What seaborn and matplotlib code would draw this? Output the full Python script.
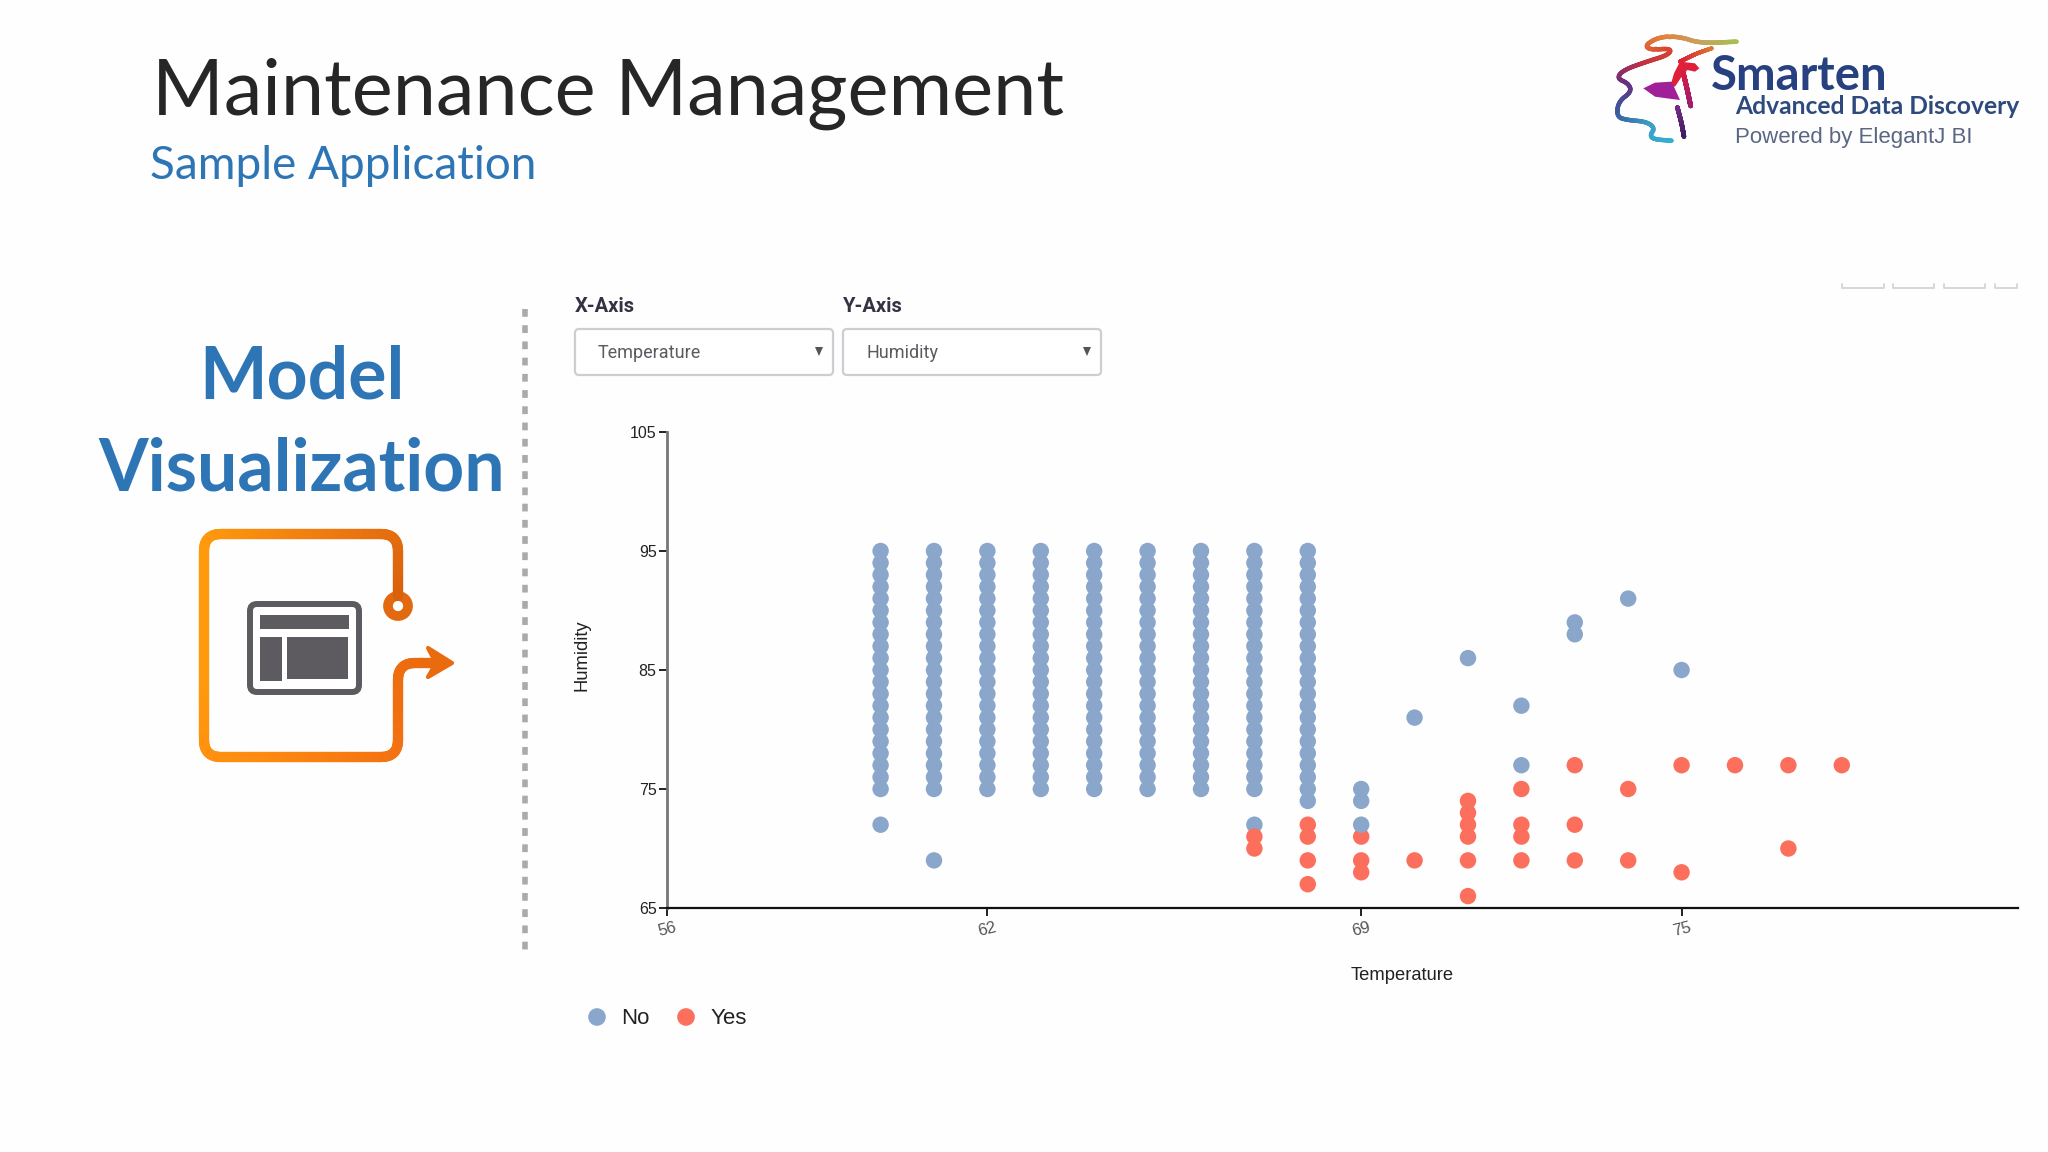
import numpy as np
import pandas as pd
import seaborn as sb
import matplotlib.pyplot as plt
from matplotlib.patches import FancyBboxPatch, Circle, Rectangle, Polygon
from matplotlib.collections import LineCollection
from matplotlib.colors import LinearSegmentedColormap

W, H = 2048, 1152

#humidity readings that repeat in every full column
band_temps = [60, 61, 62, 63, 64, 65, 66, 67, 68]
band_humidity = [75, 76, 77, 78, 79, 80, 81, 82, 83, 84, 85, 86, 87, 88, 89, 90, 91, 92, 93, 94, 95]

#isolated points, in draw order
no_temp = [60, 61, 67, 68, 69, 69, 70, 71, 72, 72, 73, 73, 74, 75]
no_hum = [72, 69, 72, 74, 75, 74, 81, 86, 82, 77, 89, 88, 91, 85]
yes_temp = [67, 67, 68, 68, 68, 68, 69, 69, 69, 70, 71, 71, 71, 71, 71, 71, 72, 72, 72, 72, 73, 73, 73, 74, 74, 75, 75, 76, 77, 77, 78]
yes_hum = [71, 70, 72, 71, 69, 67, 71, 69, 68, 69, 74, 73, 72, 71, 69, 66, 75, 72, 71, 69, 77, 72, 69, 75, 69, 77, 68, 77, 77, 70, 77]
#this one sits on top of the red ones in the picture
top_temp = [69]
top_hum = [72]

x_ticks = [56, 62, 69, 75]
y_ticks = [65, 75, 85, 95, 105]
legend_labels = ["No", "Yes"]
colors = {"No": "#8aa7cb", "Yes": "#fb6f5c"}

rows = []
for t in band_temps:
    for h in band_humidity:
        rows.append((t, h, "No"))
rows += [(t, h, "No") for t, h in zip(no_temp, no_hum)]
rows += [(t, h, "Yes") for t, h in zip(yes_temp, yes_hum)]
rows += [(t, h, "No") for t, h in zip(top_temp, top_hum)]
df = pd.DataFrame(rows, columns=["Temperature", "Humidity", "Play"])

sb.set_theme(style="white")
plt.rcParams["font.family"] = ["Lato", "DejaVu Sans"]

fig = plt.figure(figsize=(W / 100, H / 100), dpi=100, facecolor="#fefefe")

#overlay in pixel coords for the slide furniture
bg = fig.add_axes([0, 0, 1, 1])
bg.set_xlim(0, W)
bg.set_ylim(H, 0)
bg.axis("off")

left, right, top, bottom = 667, 2018, 432, 908
ax = fig.add_axes([left / W, 1 - bottom / H, (right - left) / W, (bottom - top) / H])
ax.patch.set_alpha(0)
sb.scatterplot(data=df, x="Temperature", y="Humidity", hue="Play", palette=colors, s=140,
               linewidth=0, legend=False, clip_on=False, ax=ax)
ax.set_xlim(56, 81.3)
ax.set_ylim(65, 105)
ax.set_xticks(x_ticks)
ax.set_yticks(y_ticks)
ax.set_xticklabels([str(t) for t in x_ticks], rotation=14, fontsize=12, color="#555555", family="Liberation Sans")
ax.set_yticklabels([str(t) for t in y_ticks], fontsize=11.5, color="#222222", family="Liberation Sans")
ax.tick_params(axis="both", length=5.5, width=1.4, color="#222222", bottom=True, left=True)
ax.tick_params(axis="x", pad=3)
ax.tick_params(axis="y", pad=2)
ax.spines["top"].set_visible(False)
ax.spines["right"].set_visible(False)
ax.spines["left"].set_color("#777777")
ax.spines["left"].set_linewidth(2)
ax.spines["bottom"].set_color("#111111")
ax.spines["bottom"].set_linewidth(1.6)
ax.set_xlabel("")
ax.set_ylabel("")

def txt(x, y, s, size, color, weight="normal", family="Lato", ha="left", **kw):
    bg.text(x, y, s, fontsize=size, color=color, fontweight=weight, family=family, ha=ha, va="center", **kw)

txt(152, 94, "Maintenance Management", 55.7, "#262626")
txt(150, 166, "Sample Application", 33, "#2e75b6")
txt(302, 378, "Model", 51.5, "#2e75b6", weight="bold", ha="center")
txt(302, 470, "Visualization", 51.5, "#2e75b6", weight="bold", ha="center")

#dotted divider
bg.plot([525, 525], [309, 950], color="#aaaaaa", lw=4, ls=(0, (1.4, 1.52)), solid_capstyle="butt", dash_capstyle="butt")

#dropdowns
for x0, label, value in [(575, "X-Axis", "Temperature"), (843, "Y-Axis", "Humidity")]:
    txt(x0, 306, label, 14.5, "#333344", weight="bold", family="Roboto")
    bg.add_patch(FancyBboxPatch((x0, 329), 258, 46, boxstyle="round,pad=0,rounding_size=4",
                                fc="white", ec="#cfcdd2", lw=1.6))
    txt(x0 + 23, 353, value, 13, "#5a5a60", family="Roboto")
    bg.add_patch(Polygon([(x0 + 240, 347), (x0 + 248, 347), (x0 + 244, 356)], fc="#555555", ec="none"))

#axis titles and legend
txt(1402, 976, "Temperature", 13.2, "#222222", family="Liberation Sans", ha="center")
txt(582, 655, "Humidity", 13.2, "#222222", family="Liberation Sans", ha="center", rotation=90)
bg.add_patch(Circle((597, 1017), 8.8, fc=colors["No"], ec="none"))
bg.add_patch(Circle((686, 1017), 8.8, fc=colors["Yes"], ec="none"))
txt(621, 1019, legend_labels[0], 16, "#222222", family="Liberation Sans")
txt(711, 1019, legend_labels[1], 16, "#222222", family="Liberation Sans")

#toolbar stubs top right
for a, b in [(1842, 1884), (1893, 1934), (1944, 1985), (1995, 2017)]:
    bg.plot([a, a, b, b], [284, 288, 288, 284], color="#d4d4d8", lw=1.3)

def smooth(pts, n=3):
    #corner cutting, keeps both ends
    pts = np.asarray(pts, float)
    for _ in range(n):
        q = 0.75 * pts[:-1] + 0.25 * pts[1:]
        r = 0.25 * pts[:-1] + 0.75 * pts[1:]
        mid = np.empty((2 * len(q), 2))
        mid[0::2] = q
        mid[1::2] = r
        pts = np.vstack([pts[0], mid, pts[-1]])
    return pts

def grad_line(pts, cols, lw):
    #line coloured along its length through the given colour list
    pts = np.asarray(pts, float)
    d = np.r_[0, np.cumsum(np.hypot(*np.diff(pts, axis=0).T))]
    tt = np.linspace(0, d[-1], 400)
    xy = np.c_[np.interp(tt, d, pts[:, 0]), np.interp(tt, d, pts[:, 1])]
    segs = np.stack([xy[:-1], xy[1:]], axis=1)
    cm = LinearSegmentedColormap.from_list("g", cols)
    lc = LineCollection(segs, cmap=cm, lw=lw, capstyle="round")
    lc.set_array(np.linspace(0, 1, len(segs)))
    bg.add_collection(lc)

def outline(pts, r):
    #rounded corners for the icon outline
    out = [np.array(pts[0], float)]
    for p0, p1, p2 in zip(pts[:-2], pts[1:-1], pts[2:]):
        p0, p1, p2 = np.array(p0, float), np.array(p1, float), np.array(p2, float)
        a = p1 + (p0 - p1) / np.linalg.norm(p0 - p1) * r
        b = p1 + (p2 - p1) / np.linalg.norm(p2 - p1) * r
        for t in np.linspace(0, 1, 12):
            out.append((1 - t) ** 2 * a + 2 * t * (1 - t) * p1 + t ** 2 * b)
    out.append(np.array(pts[-1], float))
    return np.array(out)

#orange process icon
grad_line(outline([(398, 596), (398, 534), (204, 534), (204, 757), (398, 757), (398, 663), (436, 663)], 17),
          ["#d9600c", "#ef7a10", "#ff9a0d", "#ff9a0d", "#ff8c10", "#f47412", "#ea6a0e"], 7.4)
bg.add_patch(Circle((398, 606), 10, fc="#fefefe", ec="#e2690f", lw=7))
bg.add_patch(Polygon([(428, 648), (452, 663), (428, 677), (436, 663)], fc="#ea6a0e", ec="#ea6a0e", lw=3, joinstyle="round"))

#window glyph in the icon
bg.add_patch(FancyBboxPatch((250, 604), 109, 88, boxstyle="round,pad=0,rounding_size=7", fc="white", ec="#5d5b5f", lw=4.3))
bg.add_patch(Rectangle((260, 615), 89, 14, fc="#5d5b5f", ec="none"))
bg.add_patch(Rectangle((260, 637), 22, 44, fc="#5d5b5f", ec="none"))
bg.add_patch(Rectangle((287, 637), 61, 42, fc="#5d5b5f", ec="none"))

#logo, traced by eye from the crop (crop px / 3 + offset)
def lg(pts):
    return [(1600 + a / 3, 20 + b / 3) for a, b in pts]

grad_line(smooth(lg([(215, 362), (160, 358), (150, 345), (165, 325), (140, 305), (80, 300), (50, 290), (55, 245), (95, 215),
                     (85, 190), (50, 175), (70, 150), (140, 125), (205, 105), (215, 85), (150, 90), (135, 75), (180, 50),
                     (240, 50), (300, 70), (410, 65)])),
          ["#35b0d0", "#3aa0c8", "#3b5aa0", "#6a2f80", "#c43040", "#d8482f", "#e5803a", "#c8a060", "#a9bd52"], 3.2)
grad_line(smooth(lg([(335, 85), (290, 100), (240, 125)])), ["#d9802f", "#e0203a"], 2.8)
grad_line(smooth(lg([(250, 160), (262, 210), (272, 258)])), ["#d81c40", "#a01c70"], 3.4)
grad_line(smooth(lg([(232, 262), (245, 310), (252, 350)])), ["#7a2a8a", "#40205f"], 3.2)
bg.add_patch(Polygon(lg([(240, 125), (285, 130), (298, 145), (285, 155), (262, 150), (245, 170), (225, 200), (212, 195), (222, 160)]),
                     fc="#e0203a", ec="none"))
bg.add_patch(Polygon(lg([(130, 205), (165, 188), (215, 185), (240, 240), (200, 235), (165, 230)]), fc="#a0209a", ec="none"))

txt(1711, 76, "Smarten", 34, "#27407f", weight="bold", family="Lato")
txt(1735, 107, "Advanced Data Discovery", 17.7, "#2e4a7d", weight="bold", family="Lato")
txt(1735, 137, "Powered by ElegantJ BI", 16, "#5a6683", family="Liberation Sans")

fig.savefig("out.png", dpi=100, facecolor=fig.get_facecolor())
